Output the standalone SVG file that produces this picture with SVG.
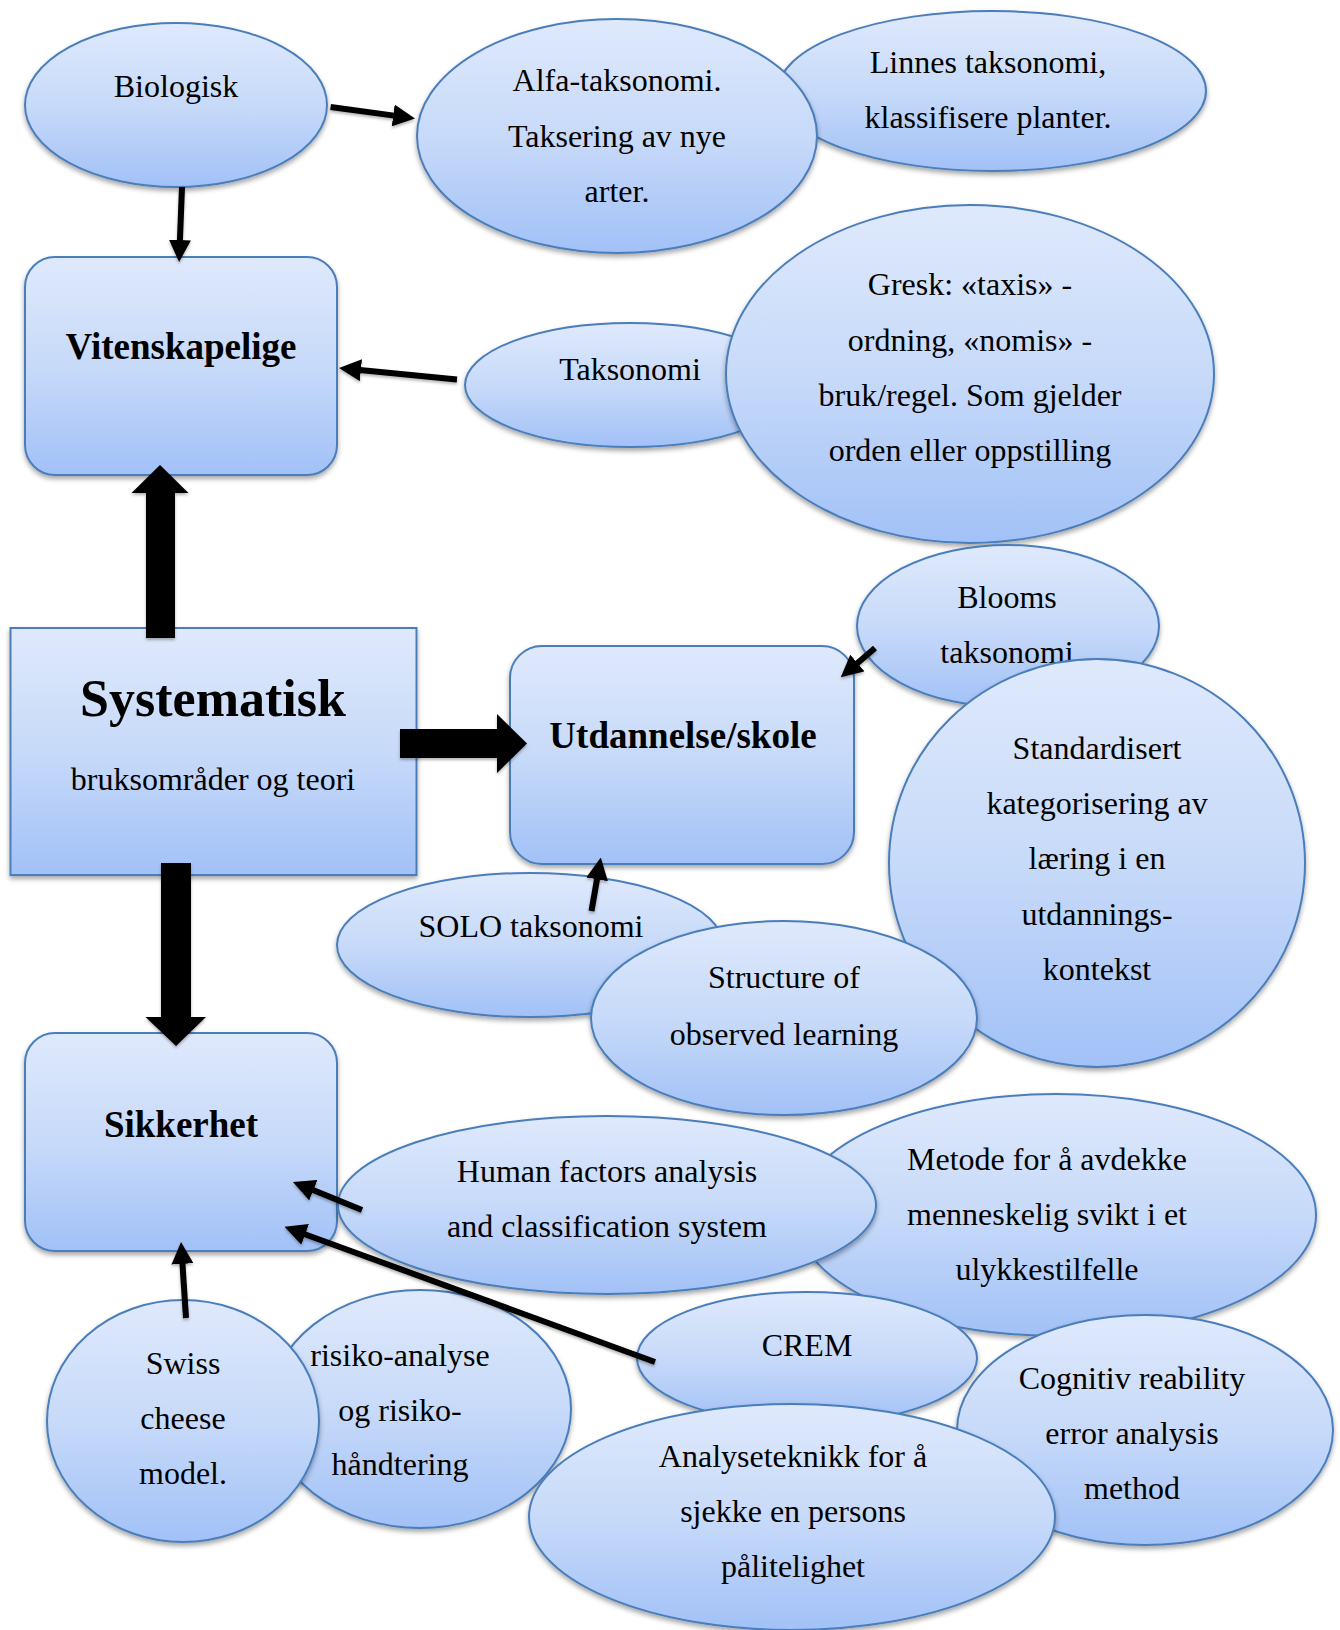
<svg xmlns="http://www.w3.org/2000/svg" width="1340" height="1630" viewBox="0 0 1340 1630">
  <defs>
    <linearGradient id="fillBlue" x1="0" y1="0" x2="0" y2="1">
      <stop offset="0" stop-color="#dfe9fc"/>
      <stop offset="0.5" stop-color="#c7daf9"/>
      <stop offset="1" stop-color="#a2c1f7"/>
    </linearGradient>
    <filter id="shadow" x="-10%" y="-10%" width="120%" height="130%">
      <feDropShadow dx="0" dy="3" stdDeviation="2.5" flood-color="#000" flood-opacity="0.35"/>
    </filter>
    <filter id="arrowShadow" x="-20%" y="-20%" width="140%" height="140%">
      <feDropShadow dx="0" dy="2" stdDeviation="1.5" flood-color="#000" flood-opacity="0.3"/>
    </filter>
    <marker id="head" viewBox="0 0 22 22" refX="1" refY="11" markerWidth="22" markerHeight="22" markerUnits="userSpaceOnUse" orient="auto">
      <path d="M0,0 L22,11 L0,22 z" fill="#000"/>
    </marker>
  </defs>
  <style>
    .shape { fill: url(#fillBlue); stroke: #4a7ebb; stroke-width: 2; filter: url(#shadow); }
    .t { font-family: "Liberation Serif", "Times New Roman", serif; font-size: 32px; fill: #000; text-anchor: middle; }
    .h { font-family: "Liberation Serif", "Times New Roman", serif; font-size: 37px; font-weight: bold; fill: #000; text-anchor: middle; }
    .big { font-size: 52px; }
    .thin { fill: none; stroke: #000; stroke-width: 6; marker-end: url(#head); }
    .thick { fill: #000; }
  </style>
  <rect width="1340" height="1630" fill="#fff"/>

  <g id="biologisk">
    <ellipse class="shape" cx="176" cy="105" rx="151" ry="82"/>
    <text class="t" x="176" y="97">Biologisk</text>
  </g>
  <g id="linnes">
    <ellipse class="shape" cx="992" cy="91" rx="214" ry="80"/>
    <text class="t" x="988" y="73">Linnes taksonomi,</text>
    <text class="t" x="988" y="128">klassifisere planter.</text>
  </g>
  <g id="alfa">
    <ellipse class="shape" cx="617" cy="136" rx="200" ry="117"/>
    <text class="t" x="617" y="91">Alfa-taksonomi.</text>
    <text class="t" x="617" y="147">Taksering av nye</text>
    <text class="t" x="617" y="202">arter.</text>
  </g>
  <g id="vitenskapelige">
    <rect class="shape" x="25" y="257" width="312" height="218" rx="30"/>
    <text class="h" x="181" y="359">Vitenskapelige</text>
  </g>
  <g id="taksonomi">
    <ellipse class="shape" cx="630" cy="385" rx="165" ry="62"/>
    <text class="t" x="630" y="380">Taksonomi</text>
  </g>
  <g id="gresk">
    <ellipse class="shape" cx="970" cy="374" rx="244" ry="169"/>
    <text class="t" x="970" y="295">Gresk: «taxis» -</text>
    <text class="t" x="970" y="351">ordning, «nomis» -</text>
    <text class="t" x="970" y="406">bruk/regel. Som gjelder</text>
    <text class="t" x="970" y="461">orden eller oppstilling</text>
  </g>
  <g id="systematisk">
    <rect class="shape" x="10.5" y="628" width="406" height="247"/>
    <text class="h big" x="213" y="716">Systematisk</text>
    <text class="t" x="213" y="790">bruksområder og teori</text>
  </g>
  <g id="utdannelse">
    <rect class="shape" x="510" y="646" width="344" height="218" rx="32"/>
    <text class="h" x="683" y="748">Utdannelse/skole</text>
  </g>
  <g id="blooms">
    <ellipse class="shape" cx="1008" cy="626" rx="151" ry="81"/>
    <text class="t" x="1007" y="608">Blooms</text>
    <text class="t" x="1007" y="663">taksonomi</text>
  </g>
  <g id="standardisert">
    <ellipse class="shape" cx="1097" cy="863" rx="208" ry="204"/>
    <text class="t" x="1097" y="759">Standardisert</text>
    <text class="t" x="1097" y="814">kategorisering av</text>
    <text class="t" x="1097" y="869">læring i en</text>
    <text class="t" x="1097" y="925">utdannings-</text>
    <text class="t" x="1097" y="980">kontekst</text>
  </g>
  <g id="solo">
    <ellipse class="shape" cx="530" cy="945" rx="193" ry="72"/>
    <text class="t" x="531" y="937">SOLO taksonomi</text>
  </g>
  <g id="structure">
    <ellipse class="shape" cx="784" cy="1018" rx="193" ry="97"/>
    <text class="t" x="784" y="988">Structure of</text>
    <text class="t" x="784" y="1045">observed learning</text>
  </g>
  <g id="sikkerhet">
    <rect class="shape" x="25" y="1033" width="312" height="218" rx="30"/>
    <text class="h" x="181" y="1137">Sikkerhet</text>
  </g>
  <g id="metode">
    <ellipse class="shape" cx="1056" cy="1215" rx="260" ry="121"/>
    <text class="t" x="1047" y="1170">Metode for å avdekke</text>
    <text class="t" x="1047" y="1225">menneskelig svikt i et</text>
    <text class="t" x="1047" y="1280">ulykkestilfelle</text>
  </g>
  <g id="human-factors">
    <ellipse class="shape" cx="607" cy="1205" rx="269" ry="89"/>
    <text class="t" x="607" y="1182">Human factors analysis</text>
    <text class="t" x="607" y="1237">and classification system</text>
  </g>
  <g id="risiko">
    <ellipse class="shape" cx="420" cy="1409" rx="151" ry="119"/>
    <text class="t" x="400" y="1366">risiko-analyse</text>
    <text class="t" x="400" y="1421">og risiko-</text>
    <text class="t" x="400" y="1475">håndtering</text>
  </g>
  <g id="swiss-cheese">
    <ellipse class="shape" cx="183" cy="1421" rx="136" ry="121"/>
    <text class="t" x="183" y="1374">Swiss</text>
    <text class="t" x="183" y="1429">cheese</text>
    <text class="t" x="183" y="1484">model.</text>
  </g>
  <g id="cognitiv">
    <ellipse class="shape" cx="1145" cy="1430" rx="188" ry="115"/>
    <text class="t" x="1132" y="1389">Cognitiv reability</text>
    <text class="t" x="1132" y="1444">error analysis</text>
    <text class="t" x="1132" y="1499">method</text>
  </g>
  <g id="crem">
    <ellipse class="shape" cx="807" cy="1358" rx="170" ry="66"/>
    <text class="t" x="807" y="1356">CREM</text>
  </g>
  <g id="analyseteknikk">
    <ellipse class="shape" cx="792" cy="1517" rx="263" ry="113"/>
    <text class="t" x="793" y="1467">Analyseteknikk for å</text>
    <text class="t" x="793" y="1522">sjekke en persons</text>
    <text class="t" x="793" y="1577">pålitelighet</text>
  </g>

  <g id="connectors" filter="url(#arrowShadow)">
    <!-- block arrows out of the central box -->
    <polygon class="thick" points="146,638 146,493 131.5,493 160,465 188.5,493 175,493 175,638"/>
    <polygon class="thick" points="400,729 497,729 497,714 527,743.5 497,773 497,758 400,758"/>
    <polygon class="thick" points="161,863 191,863 191,1017 206,1017 176,1046 145.5,1017 161,1017"/>
    <!-- thin arrows -->
    <line class="thin" x1="330.6" y1="107" x2="394.2" y2="115.6"/>
    <line class="thin" x1="182" y1="187" x2="179.9" y2="241"/>
    <line class="thin" x1="457" y1="379.5" x2="359.9" y2="370.1"/>
    <line class="thin" x1="875" y1="648" x2="856.7" y2="663.7"/>
    <line class="thin" x1="591.5" y1="911" x2="597.2" y2="878.3"/>
    <line class="thin" x1="362" y1="1210" x2="312.4" y2="1189.8"/>
    <line class="thin" x1="655" y1="1362" x2="304.2" y2="1234"/>
    <line class="thin" x1="186" y1="1318" x2="182.4" y2="1262.9"/>
  </g>
</svg>
